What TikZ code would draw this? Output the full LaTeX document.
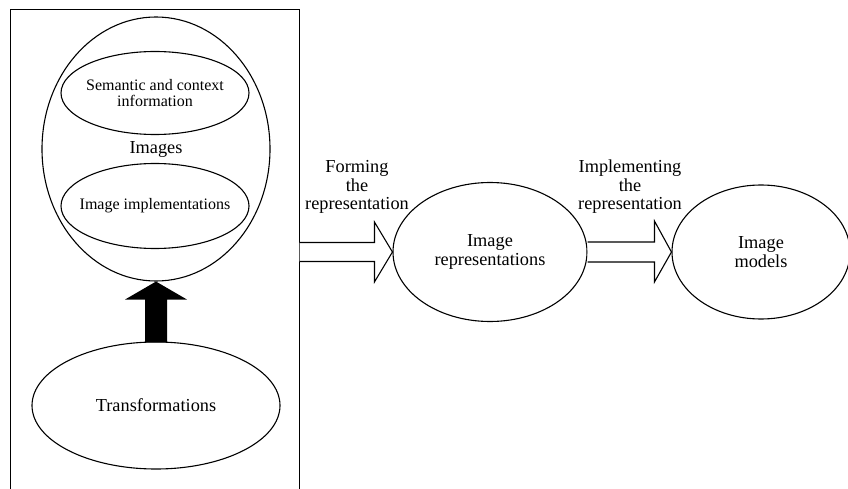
\documentclass[tikz,border=0pt]{standalone}
\usepackage{fontspec}
\setmainfont{Liberation Serif}
\usetikzlibrary{shapes.geometric,calc}

\tikzset{
  bigtext/.style={font=\fontsize{18.3}{18.5}\selectfont, align=center, inner sep=0pt},
  smalltext/.style={font=\fontsize{16}{16.2}\selectfont, align=center, inner sep=0pt},
  oval/.style={draw, ellipse, line width=1.1pt, inner sep=0pt},
  hollowarrow/.style={draw, fill=white, line width=1.1pt, line join=miter},
  framebox/.style={draw, line width=1.1pt}
}

\begin{document}
\begin{tikzpicture}[x=1pt, y=-1pt]
  \useasboundingbox (0,0) rectangle (848,489);
  \begin{scope}
    \clip (0,0) rectangle (848,489);

    % frame around the image part (open at the bottom)
    \draw[framebox] (10.5,489) -- (10.5,9.5) -- (299.5,9.5) -- (299.5,489);

    % image and its parts
    \node[oval, minimum width=228pt, minimum height=264pt] (images) at (156,149) {};
    \node[bigtext] (imagestext) at (images.center) {Images};
    \node[oval, minimum width=188pt, minimum height=83pt] (semantic) at (155,93) {};
    \node[smalltext] (semantictext) at (semantic.center) {Semantic and context\\information};
    \node[oval, minimum width=188pt, minimum height=85pt] (impl) at (155,206) {};
    \node[smalltext] (impltext) at (impl.center) {Image implementations};

    % transformations
    \node[oval, minimum width=248pt, minimum height=127pt] (trans) at (156,405.5) {};
    \node[bigtext] (transtext) at (trans.center) {Transformations};

    % solid arrow from transformations to images
    \fill ($(trans.north)+(-11,1)$) -- ($(images.south)+(-11,18)$) -- ($(images.south)+(-31,18)$)
      -- (images.south) -- ($(images.south)+(31,18)$) -- ($(images.south)+(11,18)$)
      -- ($(trans.north)+(11,1)$) -- cycle;

    % representation and model
    \node[oval, minimum width=194pt, minimum height=139pt] (rep) at (490,252) {};
    \node[bigtext] (reptext) at (rep.center) {Image\\representations};
    \node[oval, minimum width=178pt, minimum height=134pt] (models) at (761,252) {};
    \node[bigtext] (modelstext) at (models.center) {Image\\models};

    % hollow arrow: frame -> representations
    \coordinate (frameE) at (299.5,252);
    \draw[hollowarrow] ($(frameE)+(0,-9.5)$) -- ($(rep.west)+(-18,-9.5)$) -- ($(rep.west)+(-18,-30)$)
      -- (rep.west) -- ($(rep.west)+(-18,30)$) -- ($(rep.west)+(-18,9.5)$) -- ($(frameE)+(0,9.5)$);
    \node[bigtext] (formlabel) at (357,187) {Forming\\the\\representation};

    % hollow arrow: representations -> models
    \draw[hollowarrow] ($(rep.east)+(0,-10)$) -- ($(models.west)+(-17,-10)$) -- ($(models.west)+(-17,-31)$)
      -- (models.west) -- ($(models.west)+(-17,30)$) -- ($(models.west)+(-17,10)$) -- ($(rep.east)+(0,10)$);
    \node[bigtext] (impllabel) at (630,187) {Implementing\\the\\representation};
  \end{scope}
\end{tikzpicture}
\end{document}
